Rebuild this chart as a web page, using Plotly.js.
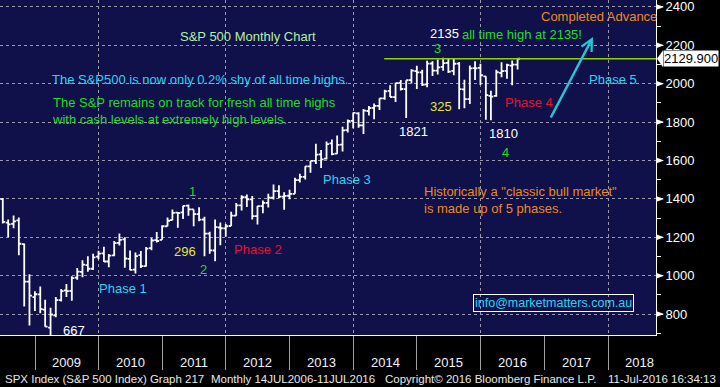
<!DOCTYPE html>
<html><head><meta charset="utf-8">
<script src="https://cdn.plot.ly/plotly-3.0.1.min.js"></script>
<style>html,body{margin:0;padding:0;background:#000;}#chart{width:720px;height:387px;}</style>
</head><body><div id="chart"></div>
<script>
// ---- data: S&P 500 monthly bars, Jun 2008 .. Jul 2016 ----
const firstYear = 2008, firstMonth = 6;
const opens = [
 1399.0,1276.7,1269.4,1287.8,1164.2,968.7,888.6,
 903.0,823.1,729.6,793.6,872.7,923.3,920.8,990.2,1019.5,1054.9,1036.2,1098.9,
 1116.6,1073.9,1105.4,1171.2,1188.6,1087.3,1031.1,1107.5,1049.7,1143.5,1185.7,1186.6,
 1257.6,1289.1,1328.6,1329.5,1365.2,1345.2,1320.6,1292.6,1219.1,1131.2,1251.0,1246.9,
 1258.9,1312.5,1365.9,1408.5,1397.9,1309.9,1362.3,1379.3,1406.5,1440.9,1412.2,1416.3,
 1426.2,1498.1,1514.7,1569.2,1597.6,1631.7,1609.8,1689.4,1636.0,1682.4,1758.7,1806.6,
 1845.9,1782.7,1857.7,1874.0,1884.4,1923.9,1962.3,1929.8,2004.1,1971.4,2018.2,2065.8,
 2058.9,1996.7,2105.2,2067.6,2087.4,2108.6,2067.0,2104.5,1970.1,1919.7,2080.8,2082.9,
 2038.2,1936.9,1937.1,2056.6,2067.2,2093.9,2099.3];
const highs = [
 1404.1,1292.2,1313.2,1303.0,1167.0,1007.5,918.9,
 943.9,875.0,833.0,888.7,930.2,956.2,996.7,1039.5,1080.2,1101.4,1113.7,1130.4,
 1150.5,1112.4,1180.7,1219.8,1200.3,1131.2,1121.0,1129.2,1148.9,1196.1,1227.1,1262.6,
 1302.7,1344.1,1332.3,1364.6,1370.6,1345.2,1356.5,1307.4,1229.3,1292.7,1277.6,1269.4,
 1333.5,1378.0,1419.2,1422.4,1415.3,1363.5,1391.7,1426.7,1474.5,1471.0,1434.3,1448.0,
 1509.9,1530.9,1570.3,1597.6,1687.2,1654.2,1698.8,1709.7,1729.9,1775.2,1813.6,1849.4,
 1850.8,1867.9,1884.0,1897.3,1924.0,1968.2,1991.4,2005.0,2019.3,2018.2,2075.8,2093.6,
 2072.4,2119.6,2117.5,2125.9,2134.7,2129.9,2132.8,2112.7,2020.9,2094.3,2116.5,2104.3,
 2038.2,1963.0,2072.2,2111.1,2103.5,2120.6,2131.7];
const lows = [
 1272.0,1200.4,1247.5,1106.4,839.8,741.0,815.7,
 804.3,734.5,666.8,783.3,866.1,888.9,869.3,978.5,992.0,1020.2,1029.4,1085.9,
 1071.6,1044.5,1101.4,1157.6,1040.8,1028.3,1010.9,1039.7,1048.2,1131.9,1173.0,1186.6,
 1257.6,1289.1,1249.1,1294.7,1311.8,1258.1,1282.9,1101.5,1114.2,1074.8,1158.7,1202.4,
 1258.9,1312.5,1340.0,1357.4,1292.0,1266.7,1325.4,1354.7,1396.6,1403.3,1343.4,1398.1,
 1426.2,1485.0,1501.5,1536.0,1581.3,1560.3,1604.6,1627.5,1633.4,1646.5,1746.2,1768.0,
 1770.5,1737.9,1834.4,1814.4,1862.4,1916.0,1930.7,1904.8,1964.0,1820.7,2001.0,1972.6,
 1988.1,1980.9,2039.7,2048.4,2067.9,2056.3,2044.0,1867.0,1871.9,1893.7,2019.4,1993.3,
 1812.3,1810.1,1931.8,2033.8,2025.9,1991.7,2074.0];
const closes = [
 1280.0,1267.4,1282.8,1166.4,968.8,896.2,903.3,
 825.9,735.1,797.9,872.8,919.1,919.3,987.5,1020.6,1057.1,1036.2,1095.6,1115.1,
 1073.9,1104.5,1169.4,1186.7,1089.4,1030.7,1101.6,1049.3,1141.2,1183.3,1180.6,1257.6,
 1286.1,1327.2,1325.8,1363.6,1345.2,1320.6,1292.3,1218.9,1131.4,1253.3,1247.0,1257.6,
 1312.4,1365.7,1408.5,1397.9,1310.3,1362.2,1379.3,1406.6,1440.7,1412.2,1416.2,1426.2,
 1498.1,1514.7,1569.2,1597.6,1630.7,1606.3,1685.7,1633.0,1681.6,1756.5,1805.8,1848.4,
 1782.6,1859.5,1872.3,1884.0,1923.6,1960.2,1930.7,2003.4,1972.3,2018.1,2067.6,2058.9,
 1995.0,2104.5,2067.9,2085.5,2107.4,2063.1,2103.8,1972.2,1920.0,2079.4,2080.4,2043.9,
 1940.2,1932.2,2059.7,2065.3,2097.0,2098.9,2129.9];
const lastPrice = 2129.9;
const highLevel = 2130;
const yearLabels = [2009,2010,2011,2012,2013,2014,2015,2016,2017,2018];
const gridYears = [2010,2012,2014,2016,2018];
const yTickValues = [800,1000,1200,1400,1600,1800,2000,2200,2400];

// month-end dates for each bar
const dates = closes.map((_, i) => {
  const m = firstMonth - 1 + i;
  const y = firstYear + Math.floor(m / 12);
  const mm = (m % 12) + 1;
  return new Date(Date.UTC(y, mm, 0)).toISOString().slice(0, 10);
});

const FONT = 'Liberation Sans, Arial, sans-serif';
const PW = 656, PH = 335;
const yRange = [691, 2436];
const unitsPerPx = (yRange[1] - yRange[0]) / PH;
const px = v => v / PW;
const py = v => (PH - v) / PH;

const trace = {
  type: 'ohlc', x: dates, open: opens, high: highs, low: lows, close: closes,
  increasing: {line: {color: '#ffffff', width: 1.8}},
  decreasing: {line: {color: '#ffffff', width: 1.8}},
  tickwidth: 0.5, hoverinfo: 'skip', showlegend: false
};

const C = {cyan:'#2ed3ee', green:'#22dd22', pale:'#b2f0a2', yellow:'#e6e63a', red:'#e8102a', orange:'#ec8a1e', white:'#ffffff', teal:'#26c6d2'};
function T(text, x, y, color, anchor) {
  return {text, xref:'paper', yref:'paper', x:px(x), y:py(y), xanchor:anchor||'left', yanchor:'middle',
    showarrow:false, align:'left', font:{family:FONT, size:13, color}};
}
const ann = [
  T('S&amp;P 500 Monthly Chart', 178, 36, C.pale),
  T('The S&amp;P500 is now only 0.2% shy of all time highs.', 50, 79, C.cyan),
  T('The S&amp;P remains on track for fresh all time highs<br>with cash levels at extremely high levels.', 50, 111, C.green),
  T('Phase 1', 97, 288, C.cyan),
  T('1', 192, 192, C.green, 'center'),
  T('296', 172, 251, C.yellow),
  T('2', 203, 269, C.green, 'center'),
  T('667', 61, 330, C.white),
  T('Phase 2', 232, 250, C.red),
  T('Phase 3', 321, 179, C.cyan),
  T('1821', 397, 131, C.white),
  T('325', 428, 107, C.yellow),
  T('2135', 428, 33, C.white),
  T('all time high at 2135!', 460, 34, C.green),
  T('3', 437, 48, C.green, 'center'),
  T('Phase 4', 503, 103, C.red),
  T('1810', 487, 133, C.white),
  T('4', 505, 152, C.green, 'center'),
  T('Completed Advance', 539, 16, C.orange),
  T('Phase 5', 587, 79, C.cyan),
  T('Historically a "classic bull market"<br>is made up of 5 phases.', 422, 200, C.orange),
];
const box = T('info@marketmatters.com.au', 553, 303, C.cyan, 'center');
box.bordercolor = '#ffffff'; box.borderwidth = 1; box.borderpad = 1; box.font.size = 12.5;
ann.push(box);
// arrow
ann.push({xref:'paper', yref:'paper', x:px(593), y:py(37), ax:-43, ay:82, text:'', showarrow:true,
  arrowhead:5, arrowsize:0.9, arrowwidth:2.5, arrowcolor:C.teal, standoff:0});
// year labels
yearLabels.forEach(y => ann.push({text:String(y), xref:'x', yref:'paper', x:y + '-07-02', y:py(362),
  xanchor:'center', yanchor:'middle', showarrow:false, font:{family:FONT, size:13, color:'#f2f2ff'}}));
// footer
[['SPX Index (S&amp;P 500 Index) Graph 217', 3], ['Monthly 14JUL2006-11JUL2016', 209],
 ['Copyright© 2016 Bloomberg Finance L.P.', 383], ['11-Jul-2016 16:34:13', 606]].forEach(f =>
  ann.push({text:f[0], xref:'paper', yref:'paper', x:px(f[1]), y:py(379), xanchor:'left', yanchor:'middle',
    showarrow:false, font:{family:FONT, size:11.5, color:'#e8e8e8'}}));
// last price label
ann.push({text:lastPrice.toFixed(3), xref:'paper', yref:'y', x:1, y:lastPrice, xanchor:'left', yanchor:'middle',
  xshift:7, showarrow:false, bgcolor:'#ffffff', borderpad:0, font:{family:FONT, size:13, color:'#000000'}});

const shapes = [
  {type:'line', xref:'x', yref:'y', x0:'2014-06-27', x1:'2018-10-03', y0:highLevel, y1:highLevel,
   line:{color:'#8fd400', width:1.5}},
  {type:'path', xref:'paper', yref:'y', fillcolor:'#ffffff', line:{width:0},
   path:`M ${1+px(1)},${lastPrice} L ${1+px(7)},${lastPrice+8.5*unitsPerPx} L ${1+px(7)},${lastPrice-8.5*unitsPerPx} Z`}
];
yTickValues.forEach(v => shapes.push({type:'path', xref:'paper', yref:'y', fillcolor:'#ffffff', line:{width:0},
  path:`M ${1},${v+3*unitsPerPx} L ${1+px(8)},${v} L ${1},${v-3*unitsPerPx} Z`}));

const layout = {
  width:720, height:387, margin:{l:0, r:64, t:0, b:52, pad:0},
  paper_bgcolor:'#000000', plot_bgcolor:'#10104a', showlegend:false,
  font:{family:FONT, color:'#ffffff'},
  xaxis:{type:'date', range:['2008-06-14','2018-10-03'], rangeslider:{visible:false},
    showline:true, linecolor:'#ffffff', linewidth:1, zeroline:false,
    tickmode:'array', tickvals:gridYears.map(y => y + '-01-01'), showticklabels:false,
    showgrid:true, gridcolor:'#9a9aa8', griddash:'dot', gridwidth:1,
    ticks:'outside', ticklen:34, tickcolor:'#a0a0a0', tickwidth:1,
    minor:{tickmode:'array', tickvals:yearLabels.map(y => y + '-01-01'), ticks:'outside', ticklen:34,
      tickcolor:'#a0a0a0', tickwidth:1, showgrid:false}},
  yaxis:{side:'right', range:yRange, tickmode:'array', tickvals:yTickValues, showline:true, linecolor:'#ffffff',
    linewidth:1, zeroline:false, showgrid:true, gridcolor:'#9a9aa8', griddash:'dot', gridwidth:1,
    ticklabeloverflow:'allow',
    ticks:'outside', ticklen:6, tickcolor:'#ffffff', tickfont:{family:FONT, size:13, color:'#ffffff'},
    minor:{dtick:100, tick0:0, ticks:'outside', ticklen:4, tickcolor:'#ffffff', showgrid:false}},
  annotations:ann, shapes:shapes
};
Plotly.newPlot('chart', [trace], layout, {displayModeBar:false, staticPlot:true});
</script></body></html>
